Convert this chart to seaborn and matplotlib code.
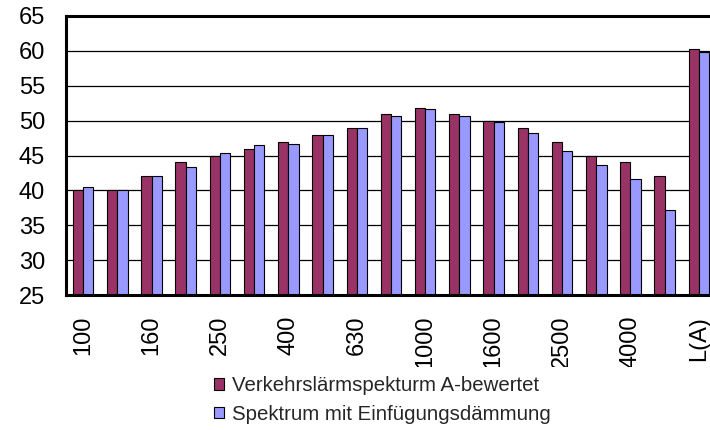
import pandas as pd
import matplotlib
matplotlib.use('Agg')
import matplotlib.pyplot as plt
from matplotlib.transforms import Bbox, TransformedBbox
import seaborn as sns

# ── Data ─────────────────────────────────────────────────────────────
bands = ["100", "125", "160", "200", "250", "315", "400", "500", "630", "800",
         "1000", "1250", "1600", "2000", "2500", "3150", "4000", "5000", "L(A)"]
traffic_a = [40, 40, 42, 44, 45, 46, 47, 48, 49, 51,
             51.8, 51, 50, 49, 47, 45, 44, 42, 60.2]
with_insertion = [40.5, 40, 42, 43.3, 45.4, 46.5, 46.7, 48, 49, 50.7,
                  51.6, 50.7, 49.8, 48.2, 45.6, 43.6, 41.7, 37.2, 59.8]
series_names = ["Verkehrslärmspekturm A-bewertet", "Spektrum mit Einfügungsdämmung"]
colors = ["#993366", "#9999FF"]
y_ticks = [25, 30, 35, 40, 45, 50, 55, 60, 65]

df = pd.DataFrame({
    "band": bands * 2,
    "level": traffic_a + with_insertion,
    "series": [series_names[0]] * len(bands) + [series_names[1]] * len(bands),
})

sns.set_style("white")
plt.rcParams['font.family'] = ['Liberation Sans', 'DejaVu Sans']

fig = plt.figure(figsize=(7.1, 4.3), dpi=100)
ax = fig.add_axes([66 / 710, 1 - 295 / 430, 650 / 710, (295 - 16) / 430])

sns.barplot(data=df, x="band", y="level", hue="series", order=bands,
            hue_order=series_names, palette=colors, width=0.6,
            edgecolor="black", linewidth=0.8, saturation=1, ax=ax)

ax.set_ylim(25, 65)
ax.set_xlim(-0.5, len(bands) - 0.5)
ax.set_yticks(y_ticks)
ax.set_yticklabels([str(t) for t in y_ticks], fontsize=17)
ax.set_xticks(range(len(bands)))
ax.set_xticklabels([b if i % 2 == 0 else "" for i, b in enumerate(bands)],
                   rotation=90, fontsize=17)
ax.tick_params(axis='both', length=0, pad=15, colors='black')
ax.set_xlabel("")
ax.set_ylabel("")

# long labels get cut off at the bottom, like in the original
clip = TransformedBbox(Bbox([[0, 1 - 367 / 430], [1, 1]]), fig.transFigure)
for lbl in ax.get_xticklabels():
    lbl.set_clip_box(clip)
    lbl.set_clip_on(True)

ax.yaxis.grid(True, color="black", linewidth=0.9)
ax.set_axisbelow(True)
for side in ["top", "left", "bottom"]:
    ax.spines[side].set_color("black")
    ax.spines[side].set_linewidth(2.2)
ax.spines["right"].set_visible(False)

handles, labels = ax.get_legend_handles_labels()
ax.get_legend().remove()
fig.legend(handles, labels, loc="center left", bbox_to_anchor=(214 / 710, 1 - 400 / 430),
           frameon=False, fontsize=14.7, handlelength=0.5, handleheight=0.5,
           handletextpad=0.4, labelspacing=0.47, borderpad=0, borderaxespad=0)

fig.savefig("out.png", dpi=100)
